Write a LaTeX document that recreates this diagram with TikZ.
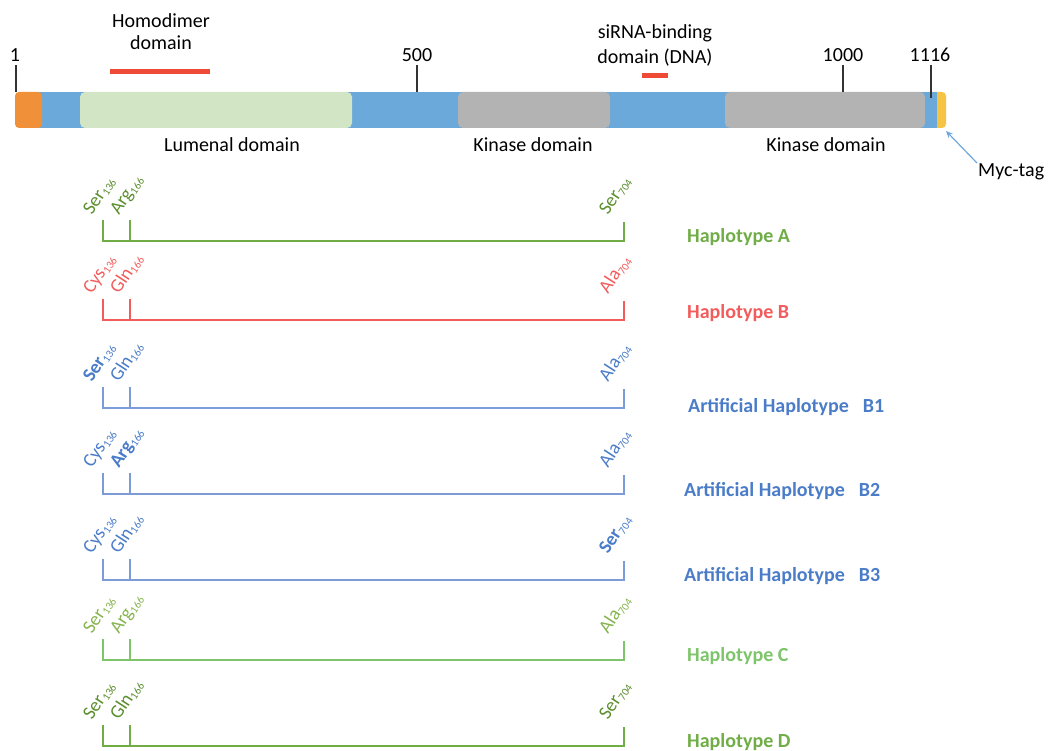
\documentclass[tikz,border=0pt]{standalone}
\usepackage{fontspec}
\setmainfont{Carlito}
\usetikzlibrary{arrows.meta,calc}
\definecolor{barblue}{HTML}{6AA9DA}
\definecolor{lumgreen}{HTML}{D2E5C5}
\definecolor{kgray}{HTML}{B3B3B3}
\definecolor{orng}{HTML}{F0913A}
\definecolor{ylw}{HTML}{F6C342}
\definecolor{redbar}{HTML}{EE4A36}
\definecolor{grA}{HTML}{70AD47}
\definecolor{grAtext}{HTML}{5B8F2E}
\definecolor{redB}{HTML}{F25C5C}
\definecolor{blueL}{HTML}{4A7CC8}
\definecolor{blueline}{HTML}{7C9CD8}
\definecolor{grC}{HTML}{7DC46A}
\definecolor{grCtext}{HTML}{86B44E}
\definecolor{arrowblue}{HTML}{6FA8DC}
\newcommand\resid[2]{#1\raisebox{-0.3ex}{\fontsize{11}{11}\selectfont #2}}
\newcommand\hrow[7]{%
  \coordinate (#7L) at (103,#1);
  \coordinate (#7M) at (130,#1);
  \coordinate (#7R) at (624,#1);
  \coordinate (#7Lt) at (103,#1-21);
  \coordinate (#7Mt) at (130,#1-21);
  \coordinate (#7Rt) at (624,#1-19);
  \draw[bracket,#2] (#7Lt) -- (#7L) -- (#7R) -- (#7Rt);
  \draw[bracket,#2] (#7Mt) -- (#7M);
  \begin{scope}[x=1pt,y=1pt]
  \node[res,text=#3] (#7a) at ($(#7Lt)+(-11,4)$) {#4};
  \node[res,text=#3] (#7b) at ($(#7Mt)+(-11,4)$) {#5};
  \node[res,text=#3] (#7c) at ($(#7Rt)+(-16,6)$) {#6};
  \end{scope}
}
\begin{document}
\begin{tikzpicture}[x=1pt,y=-1pt,
  toplbl/.style={font=\fontsize{20}{24}\selectfont, inner sep=0, align=center},
  res/.style={font=\fontsize{19}{19}\selectfont, anchor=base west, inner sep=0, rotate=57, transform shape},
  hlbl/.style={font=\bfseries\fontsize{20}{20}\selectfont, anchor=west, inner sep=0},
  albl/.style={font=\bfseries\fontsize{20}{20}\selectfont, anchor=west, inner sep=0},
  bracket/.style={line width=1.7pt},
  tickline/.style={line width=1.3pt, black!80},
  seg/.style={inner sep=0, minimum height=36pt}]
\useasboundingbox (0,0) rectangle (1056,751);
% protein bar
\node[seg, fill=ylw, rounded corners=4pt, minimum width=21pt] (myc) at (935.5,110) {};
\node[seg, fill=barblue, minimum width=907pt] (bar) at (483.5,110) {};
\node[seg, fill=orng, rounded corners=4pt, minimum width=27pt] (sig) at (28.5,110) {};
\node[seg, fill=lumgreen, rounded corners=5pt, minimum width=272pt] (lum) at (216,110) {};
\node[seg, fill=kgray, rounded corners=5pt, minimum width=152pt] (kin1) at (534,110) {};
\node[seg, fill=kgray, rounded corners=5pt, minimum width=200pt] (kin2) at (825,110) {};
% domain labels
\node[toplbl] (lumlbl) at (232,145) {Lumenal domain};
\node[toplbl] (kin1lbl) at (533,145) {Kinase domain};
\node[toplbl] (kin2lbl) at (826,145) {Kinase domain};
% ticks
\node[toplbl, anchor=base] (t1) at (15,62) {1};
\node[toplbl, anchor=base] (t500) at (417,62) {500};
\node[toplbl, anchor=base] (t1000) at (843,62) {1000};
\node[toplbl, anchor=base] (t1116) at (930,62) {1116};
\draw[tickline] ($(t1.base)+(1,3)$) -- ($(t1.base |- bar.north)+(1,0)$);
\draw[tickline] ($(t500.base)+(0,3)$) -- (t500.base |- bar.north);
\draw[tickline] ($(t1000.base)+(0,3)$) -- (t1000.base |- bar.north);
\draw[tickline] ($(t1116.base)+(1,3)$) -- ($(t1116.base |- bar.north)+(1,6)$);
% homodimer / siRNA
\node[toplbl, font=\fontsize{20}{22}\selectfont] (homo) at (161,32) {Homodimer\\domain};
\coordinate (h1) at (110,72);
\coordinate (h2) at (210,72);
\draw[redbar, line width=5pt] (h1) -- (h2);
\node[toplbl, font=\fontsize{20}{25}\selectfont] (sirna) at (655,45) {siRNA-binding\\domain (DNA)};
\coordinate (s1) at (642,76);
\coordinate (s2) at (668,76);
\draw[redbar, line width=5pt] (s1) -- (s2);
% Myc tag
\node[toplbl, anchor=west] (myclbl) at (978,172) {Myc-tag};
\coordinate (myctip) at (946,131);
\draw[arrowblue, line width=1.2pt, -{Stealth[length=7pt,width=6pt]}] ($(myclbl.west)+(-1,-9)$) -- (myctip);
% haplotypes
\hrow{241}{grA}{grAtext}{\resid{Ser}{136}}{\resid{Arg}{166}}{\resid{Ser}{704}}{A}
\hrow{320}{redB}{redB}{\resid{Cys}{136}}{\resid{Gln}{166}}{\resid{Ala}{704}}{B}
\hrow{408}{blueline}{blueL}{\resid{\textbf{Ser}}{136}}{\resid{Gln}{166}}{\resid{Ala}{704}}{Ba}
\hrow{494}{blueline}{blueL}{\resid{Cys}{136}}{\resid{\textbf{Arg}}{166}}{\resid{Ala}{704}}{Bb}
\hrow{580}{blueline}{blueL}{\resid{Cys}{136}}{\resid{Gln}{166}}{\resid{\textbf{Ser}}{704}}{Bc}
\hrow{660}{grC}{grCtext}{\resid{Ser}{136}}{\resid{Arg}{166}}{\resid{Ala}{704}}{C}
\hrow{746}{grA}{grAtext}{\resid{Ser}{136}}{\resid{Gln}{166}}{\resid{Ser}{704}}{D}
\node[hlbl, text=grA] (An) at (687,237) {Haplotype A};
\node[hlbl, text=redB] (Bn) at (687,313) {Haplotype B};
\node[albl, text=blueL] (Ban) at (688,407) {Artificial Haplotype\hspace{14pt}B1};
\node[albl, text=blueL] (Bbn) at (684,491) {Artificial Haplotype\hspace{14pt}B2};
\node[albl, text=blueL] (Bcn) at (684,576) {Artificial Haplotype\hspace{14pt}B3};
\node[hlbl, text=grC] (Cn) at (687,656) {Haplotype C};
\node[hlbl, text=grA] (Dn) at (687,742) {Haplotype D};
\end{tikzpicture}
\end{document}
